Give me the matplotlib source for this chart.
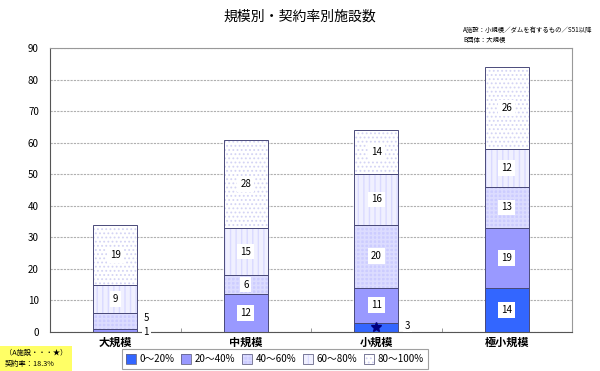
import matplotlib
matplotlib.use("Agg")
import matplotlib.pyplot as plt
from matplotlib.patches import Patch, Rectangle
from matplotlib.legend_handler import HandlerTuple
import numpy as np

plt.rcParams['font.family'] = ['Noto Sans CJK JP', 'DejaVu Sans']

categories = ['大規模', '中規模', '小規模', '極小規模']
series_names = ['0～20%', '20～40%', '40～60%', '60～80%', '80～100%']
v0_20 = [0, 0, 3, 14]
v20_40 = [1, 12, 11, 19]
v40_60 = [5, 6, 20, 13]
v60_80 = [9, 15, 16, 12]
v80_100 = [19, 28, 14, 26]
series = [v0_20, v20_40, v40_60, v60_80, v80_100]

title = '規模別・契約率別施設数'
note = 'A施設：小規模／ダムを有するもの／S51以降\nB団体：大規模'
box_text = '（A施設・・・★）\n契約率：18.3%'

facecolors = ['#3366FF', '#9999FF', '#CCCCFF', '#F0F0FF', '#FFFFFF']
hatches = [None, None, '++++', '|||', '....']
hatchcols = ['#3366FF', '#9999FF', '#DCDCFF', '#DADAFF', '#D4D4F4']
hatchlw = [1.0, 1.0, 1.2, 1.0, 0.8]
edgecol = '#4A4A7A'

fig = plt.figure(figsize=(6, 3.71), dpi=100)
ax = fig.add_axes([50/600, 1-332/371, 522/600, 284/371])

x = np.arange(len(categories))
w = 0.336
bottom = np.zeros(len(categories))
handles = []
for i, vals in enumerate(series):
    vals = np.array(vals, dtype=float)
    plt.rcParams['hatch.color'] = hatchcols[i]
    plt.rcParams['hatch.linewidth'] = hatchlw[i]
    ax.bar(x, vals, w, bottom=bottom, color=facecolors[i], hatch=hatches[i], zorder=2)
    ax.bar(x, vals, w, bottom=bottom, fill=False, edgecolor=edgecol, linewidth=0.7, zorder=3)
    hp = Patch(facecolor=facecolors[i], hatch=hatches[i])
    op = Patch(fill=False, edgecolor='#666688', linewidth=0.6)
    handles.append((hp, op))
    for j, v in enumerate(vals):
        if v >= 6:
            ax.text(x[j], bottom[j] + v/2, f'{int(v)}', ha='center', va='center',
                    fontsize=7, zorder=5,
                    bbox=dict(facecolor='white', edgecolor='none', pad=2.0))
    bottom += vals

# small-segment labels outside the bars
ax.text(x[0] + w/2 + 0.07, 4.3, f'{v40_60[0]}', ha='center', va='center', fontsize=7, zorder=5,
        bbox=dict(facecolor='white', edgecolor='none', pad=1.2))
ax.text(x[0] + w/2 + 0.07, 0, f'{v20_40[0]}', ha='center', va='center', fontsize=7, zorder=5,
        bbox=dict(facecolor='white', edgecolor='none', pad=1.2))
ax.text(x[2] + w/2 + 0.07, 2.0, f'{v0_20[2]}', ha='center', va='center', fontsize=7, zorder=5,
        bbox=dict(facecolor='white', edgecolor='none', pad=1.2))
ax.plot([x[2]], [v0_20[2]/2], marker='*', color='#000080', markersize=7, zorder=6)

ax.set_xlim(-0.5, 3.5)
ax.set_ylim(0, 90)
ax.set_yticks(range(0, 91, 10))
ax.set_xticks(x)
ax.set_xticklabels(categories, fontsize=8, fontweight='bold')
ax.set_xticks([0.5, 1.5, 2.5], minor=True)
ax.tick_params(axis='x', which='major', length=0, pad=3)
ax.tick_params(axis='x', which='minor', length=3, direction='in', color='#888888')
ax.tick_params(axis='y', length=0, labelsize=7, pad=8)
ax.yaxis.grid(True, color='#B0B0B0', linestyle=(0, (2, 1)), linewidth=0.8, zorder=0)
ax.set_axisbelow(True)
for s in ['top', 'right']:
    ax.spines[s].set_color('#999999')
    ax.spines[s].set_linewidth(0.8)
for s in ['left', 'bottom']:
    ax.spines[s].set_color('#555555')
    ax.spines[s].set_linewidth(0.8)

fig.text(0.5, 1-17/371, title, ha='center', va='center', fontsize=10)
fig.text(463/600, 1-35/371, note, ha='left', va='center', fontsize=4.6, linespacing=1.45)

leg = fig.legend(handles, series_names, handler_map={tuple: HandlerTuple(ndivide=1)},
                 loc='center', bbox_to_anchor=(275/600, 1-359/371), ncol=5, fontsize=7,
                 frameon=True, fancybox=False, edgecolor='#888888', handlelength=1.0,
                 handleheight=1.2, handletextpad=0.4, columnspacing=0.7, borderpad=0.45)
leg.get_frame().set_linewidth(0.8)

fig.patches.append(Rectangle((0, 0), 72/600, 25/371, transform=fig.transFigure,
                             facecolor='#FFFF66', edgecolor='none', zorder=0))
fig.text(5/600, 1-358/371, box_text, ha='left', va='center', fontsize=5.2, linespacing=1.5)

fig.savefig('out.png', dpi=100)
